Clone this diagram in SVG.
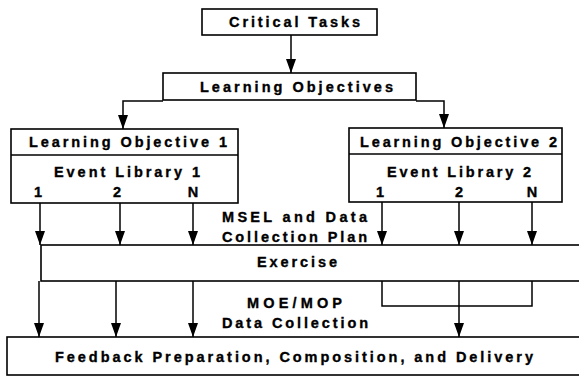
<svg xmlns="http://www.w3.org/2000/svg" width="579" height="377" viewBox="0 0 579 377">
<defs>
<marker id="ah" markerUnits="userSpaceOnUse" markerWidth="14" markerHeight="10" viewBox="0 0 14 10" refX="14" refY="5" orient="auto">
<path d="M0,0 L14,5 L0,10 Z" fill="#000"/>
</marker>
</defs>
<style>
.box{fill:#fff;stroke:#000;stroke-width:1.6}
.ln{fill:none;stroke:#000;stroke-width:1.5}
.arr{fill:none;stroke:#000;stroke-width:1.5;marker-end:url(#ah)}
text{font-family:"Liberation Sans",Arial,sans-serif;font-weight:bold;font-size:14.5px;fill:#000;stroke:#000;stroke-width:0.35}
</style>
<rect width="579" height="377" fill="#fff"/>
<g id="connectors">
<line class="arr" x1="291" y1="35" x2="291" y2="73"/>
<path class="arr" d="M163,101 H123 V129"/>
<path class="arr" d="M416,101 H444 V128"/>
<line class="arr" x1="40" y1="203" x2="40" y2="245"/>
<line class="arr" x1="120" y1="203" x2="120" y2="245"/>
<line class="arr" x1="193" y1="203" x2="193" y2="245"/>
<line class="arr" x1="382" y1="202" x2="382" y2="245"/>
<line class="arr" x1="459" y1="202" x2="459" y2="245"/>
<line class="arr" x1="532" y1="202" x2="532" y2="245"/>
<line class="arr" x1="39" y1="281" x2="39" y2="337"/>
<line class="arr" x1="116" y1="281" x2="116" y2="337"/>
<line class="arr" x1="193" y1="281" x2="193" y2="337"/>
<path class="ln" d="M382,281 V306 H532 V281"/>
<line class="arr" x1="459" y1="281" x2="459" y2="337"/>
</g>
<g id="critical-tasks">
<rect class="box" x="202" y="9" width="175" height="26"/>
<text x="229" y="27" textLength="131" lengthAdjust="spacing">Critical Tasks</text>
</g>
<g id="learning-objectives">
<rect class="box" x="163" y="73" width="253" height="27"/>
<text x="200" y="92" textLength="193" lengthAdjust="spacing">Learning Objectives</text>
</g>
<g id="learning-objective-1">
<rect class="box" x="11" y="129" width="227" height="74"/>
<line class="ln" x1="11" y1="155" x2="238" y2="155"/>
<text x="29" y="147" textLength="198" lengthAdjust="spacing">Learning Objective 1</text>
<text x="54" y="177" textLength="146" lengthAdjust="spacing">Event Library 1</text>
<text x="38" y="197" text-anchor="middle">1</text>
<text x="117" y="197" text-anchor="middle">2</text>
<text x="193" y="197" text-anchor="middle">N</text>
</g>
<g id="learning-objective-2">
<rect class="box" x="349" y="128" width="213" height="74"/>
<line class="ln" x1="349" y1="154" x2="562" y2="154"/>
<text x="360" y="147" textLength="197" lengthAdjust="spacing">Learning Objective 2</text>
<text x="387" y="177" textLength="144" lengthAdjust="spacing">Event Library 2</text>
<text x="380" y="197" text-anchor="middle">1</text>
<text x="459" y="197" text-anchor="middle">2</text>
<text x="532" y="197" text-anchor="middle">N</text>
</g>
<g id="msel-label">
<text x="222" y="222" textLength="145" lengthAdjust="spacing">MSEL and Data</text>
<text x="222" y="242" textLength="145" lengthAdjust="spacing">Collection Plan</text>
</g>
<g id="exercise">
<rect class="box" x="41" y="245" width="560" height="36"/>
<text x="257" y="267" textLength="80" lengthAdjust="spacing">Exercise</text>
</g>
<g id="moe-label">
<text x="247" y="308" textLength="95" lengthAdjust="spacing">MOE/MOP</text>
<text x="222" y="328" textLength="146" lengthAdjust="spacing">Data Collection</text>
</g>
<g id="feedback">
<rect class="box" x="7" y="337" width="600" height="38"/>
<text x="55" y="362" textLength="478" lengthAdjust="spacing">Feedback Preparation, Composition, and Delivery</text>
</g>
</svg>
